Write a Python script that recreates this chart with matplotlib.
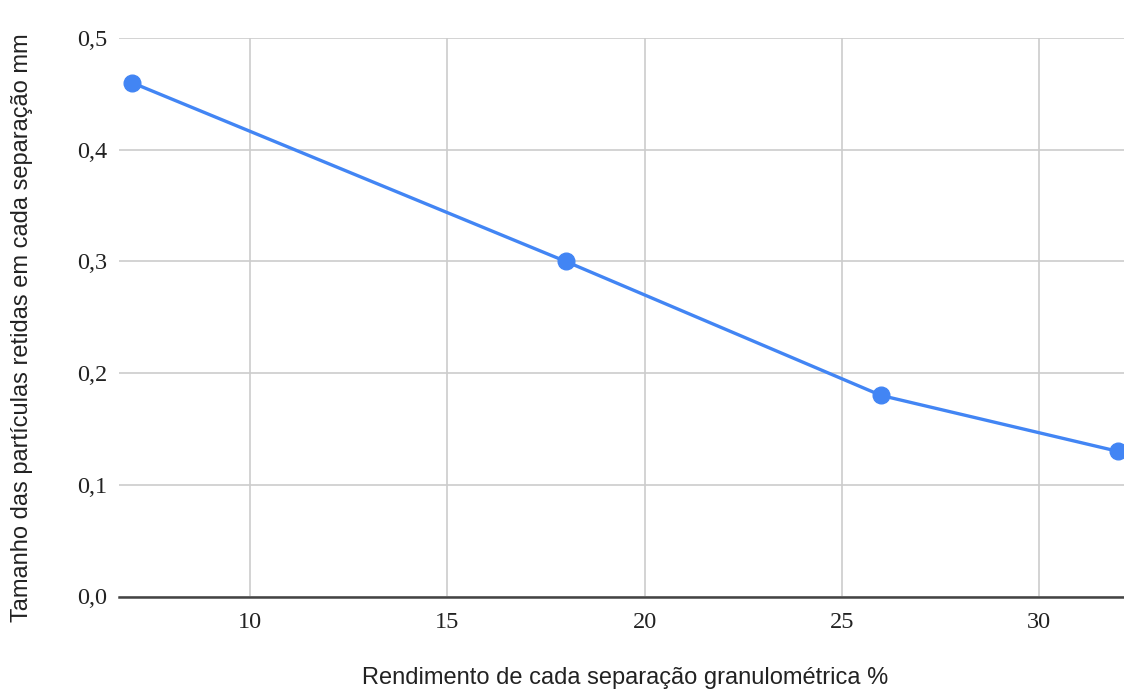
import matplotlib
matplotlib.use("Agg")
import matplotlib.pyplot as plt

rendimento = [7, 18, 26, 32]
tamanho = [0.46, 0.30, 0.18, 0.13]
x_ticks = [10, 15, 20, 25, 30]
y_ticks = [0.0, 0.1, 0.2, 0.3, 0.4, 0.5]
y_tick_labels = ["0,0", "0,1", "0,2", "0,3", "0,4", "0,5"]
x_label = "Rendimento de cada separação granulométrica %"
y_label = "Tamanho das partículas retidas em cada separação mm"

W, H = 1124, 691
fig = plt.figure(figsize=(W / 100, H / 100), dpi=100)
left, right, top, bottom = 119, 1124, 38, 596.5
ax = fig.add_axes([left / W, 1 - bottom / H, (right - left) / W, (bottom - top) / H])

ax.plot(rendimento, tamanho, color="#4285F4", linewidth=2.4, marker="o",
        markersize=12, clip_on=False, zorder=5)

ax.set_xlim(6.67, 32.16)
ax.set_ylim(0, 0.5)
ax.set_xticks(x_ticks)
ax.set_yticks(y_ticks)
ax.set_yticklabels(y_tick_labels)
ax.grid(True, color="#cccccc", linewidth=1.2)
ax.set_axisbelow(True)
for s in ["top", "right", "left"]:
    ax.spines[s].set_visible(False)
ax.spines["bottom"].set_color("#444444")
ax.spines["bottom"].set_linewidth(1.8)
ax.spines["bottom"].set_zorder(3)
ax.tick_params(length=0, labelsize=17.5, colors="#222222")
ax.tick_params(axis="y", pad=8.5)
ax.tick_params(axis="x", pad=11)
for lab in ax.get_xticklabels() + ax.get_yticklabels():
    lab.set_fontfamily("Liberation Serif")

fig.text(625 / W, 1 - 678 / H, x_label, ha="center", va="center",
         fontsize=17, family="Liberation Sans", color="#222222")
fig.text(22 / W, 1 - 328 / H, y_label, ha="center", va="center", rotation=90,
         fontsize=17, family="Liberation Sans", color="#222222")

fig.savefig("out.png", dpi=100)
